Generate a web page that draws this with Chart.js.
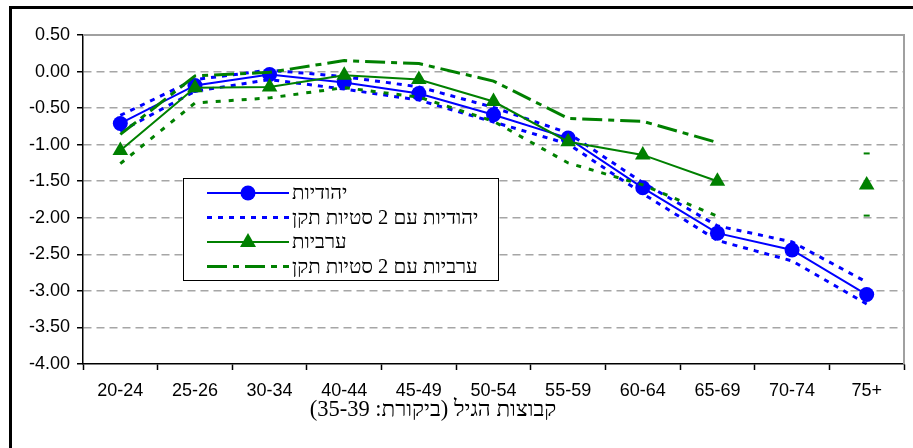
<!DOCTYPE html>
<html>
<head>
<meta charset="utf-8">
<script src="https://cdn.jsdelivr.net/npm/chart.js@4.4.1/dist/chart.umd.min.js"></script>
<style>
  body { margin: 0; background: #fff; }
  #wrap { position: relative; width: 913px; height: 448px; }
</style>
</head>
<body>
<div id="wrap"><canvas id="chart" width="913" height="448"></canvas></div>
<script>
// age groups (reference group 35-39 left out)
const ageGroups = ['20-24', '25-26', '30-34', '40-44', '45-49', '50-54', '55-59', '60-64', '65-69', '70-74', '75+'];

// Jewish women: estimate and +/- 2 standard errors
const jewish      = [-0.71, -0.19, -0.04, -0.15, -0.30, -0.59, -0.91, -1.59, -2.21, -2.44, -3.05];
const jewishUpper = [-0.60, -0.11,  0.02, -0.07, -0.21, -0.49, -0.84, -1.52, -2.11, -2.33, -2.88];
const jewishLower = [-0.82, -0.27, -0.11, -0.24, -0.39, -0.69, -0.99, -1.67, -2.31, -2.59, -3.18];

// Arab women: estimate and +/- 2 standard errors (no value for 70-74)
const arab      = [-1.08, -0.22, -0.21, -0.05, -0.11, -0.41, -0.96, -1.14, -1.50, null, -1.55];
const arabUpper = [-0.86, -0.06, -0.01,  0.15,  0.11, -0.13, -0.64, -0.68, -0.97, null, -1.12];
const arabLower = [-1.26, -0.43, -0.36, -0.22, -0.35, -0.68, -1.25, -1.55, -1.98, null, -1.97];

const legendLabels = ['יהודיות', 'יהודיות עם 2 סטיות תקן', 'ערביות', 'ערביות עם 2 סטיות תקן'];
const xTitle = 'קבוצות הגיל (ביקורת: 35-39)';

const BLUE = '#0000ff';
const GREEN = '#008000';
const serif = '"Liberation Serif", "Times New Roman", "DejaVu Serif", serif';
const sans = '"Liberation Sans", Arial, sans-serif';

// show a short mark only where a bound has no neighbours to connect to
function loneRadius(ctx) {
  const d = ctx.dataset.data, i = ctx.dataIndex;
  if (d[i] == null) return 0;
  const prev = i > 0 ? d[i - 1] : null;
  const next = i < d.length - 1 ? d[i + 1] : null;
  return (prev == null && next == null) ? 3 : 0;
}

function bound(data, color, dash, width) {
  return {
    data: data, borderColor: color, backgroundColor: color, borderWidth: width,
    borderDash: dash, pointStyle: 'line', pointRadius: loneRadius,
    pointBorderWidth: 2, pointBorderColor: color, fill: false, spanGaps: false
  };
}

// frame, plot border, legend box and axis title
const decorations = {
  id: 'decorations',
  afterDraw(chart) {
    const ctx = chart.ctx, a = chart.chartArea;
    ctx.save();
    ctx.setLineDash([]);

    // grey top/right plot border
    ctx.strokeStyle = '#a0a0a0';
    ctx.lineWidth = 2;
    ctx.beginPath();
    ctx.moveTo(a.left, a.top);
    ctx.lineTo(a.right, a.top);
    ctx.lineTo(a.right, a.bottom);
    ctx.stroke();

    // outer black frame (left and top visible)
    ctx.strokeStyle = '#000';
    ctx.lineWidth = 3;
    ctx.beginPath();
    ctx.moveTo(10.5, 460);
    ctx.lineTo(10.5, 7.5);
    ctx.lineTo(920, 7.5);
    ctx.stroke();

    // legend box
    const lx = 183, ly = 178, lw = 315, lh = 102;
    ctx.fillStyle = '#fff';
    ctx.fillRect(lx, ly, lw, lh);
    ctx.strokeStyle = '#000';
    ctx.lineWidth = 1;
    ctx.strokeRect(lx + 0.5, ly + 0.5, lw, lh);

    const rows = [
      { color: BLUE, dash: [], width: 2, marker: 'circle' },
      { color: BLUE, dash: [5, 6], width: 3, marker: null },
      { color: GREEN, dash: [], width: 2, marker: 'triangle' },
      { color: GREEN, dash: [20, 6, 6, 6], width: 3, marker: null }
    ];
    rows.forEach((r, i) => {
      const y = 193 + i * 24.5;
      ctx.strokeStyle = r.color;
      ctx.lineWidth = r.width;
      ctx.setLineDash(r.dash);
      ctx.beginPath();
      ctx.moveTo(207, y);
      ctx.lineTo(289, y);
      ctx.stroke();
      ctx.setLineDash([]);
      ctx.fillStyle = r.color;
      if (r.marker === 'circle') {
        ctx.beginPath();
        ctx.arc(248, y, 7.5, 0, Math.PI * 2);
        ctx.fill();
      } else if (r.marker === 'triangle') {
        ctx.beginPath();
        ctx.moveTo(248, y - 9);
        ctx.lineTo(256, y + 5);
        ctx.lineTo(240, y + 5);
        ctx.closePath();
        ctx.fill();
      }
      ctx.fillStyle = '#000';
      ctx.font = '20.5px ' + serif;
      ctx.direction = 'rtl';
      ctx.textAlign = 'left';
      ctx.textBaseline = 'middle';
      ctx.fillText(legendLabels[i], 292, y + 1);
    });

    // x axis title
    ctx.fillStyle = '#000';
    ctx.font = '22.5px ' + serif;
    ctx.direction = 'rtl';
    ctx.textAlign = 'center';
    ctx.textBaseline = 'middle';
    ctx.fillText(xTitle, 433, 410);
    ctx.restore();
  }
};

new Chart(document.getElementById('chart'), {
  type: 'line',
  data: {
    labels: ageGroups,
    datasets: [
      { data: arab, borderColor: GREEN, backgroundColor: GREEN, borderWidth: 2,
        pointStyle: 'triangle', pointRadius: 9, pointBorderWidth: 0, spanGaps: false },
      bound(arabUpper, GREEN, [20, 6, 6, 6], 3),
      bound(arabLower, GREEN, [5, 8], 3),
      { data: jewish, borderColor: BLUE, backgroundColor: BLUE, borderWidth: 2,
        pointStyle: 'circle', pointRadius: 7.5, pointBorderWidth: 0 },
      bound(jewishUpper, BLUE, [5, 6], 3),
      bound(jewishLower, BLUE, [5, 6], 3)
    ]
  },
  options: {
    responsive: false,
    animation: false,
    devicePixelRatio: 1,
    layout: { padding: { left: 0, top: 35, right: 5, bottom: 0 } },
    plugins: { legend: { display: false }, tooltip: { enabled: false } },
    elements: { line: { tension: 0 } },
    scales: {
      x: {
        offset: true,
        grid: { offset: true, drawOnChartArea: false, tickLength: 6, tickColor: '#000', tickWidth: 1.5 },
        border: { color: '#000', width: 1.5 },
        ticks: { color: '#000', font: { family: sans, size: 18 }, padding: 10, maxRotation: 0, autoSkip: false },
        afterFit(s) { s.height = 84; }
      },
      y: {
        min: -4, max: 0.5,
        grid: {
          color: c => (c.tick && (c.tick.value === 0.5 || c.tick.value === -4)) ? 'rgba(0,0,0,0)' : '#a6a6a6',
          lineWidth: 1.5, tickLength: 6, tickColor: '#000', tickWidth: 1.5
        },
        border: { color: '#000', width: 1.5, dash: [8, 5] },
        ticks: { stepSize: 0.5, color: '#000', font: { family: sans, size: 18 }, padding: 7,
                 callback: v => v.toFixed(2) },
        afterFit(s) { s.width = 83; }
      }
    }
  },
  plugins: [decorations]
});
</script>
</body>
</html>
